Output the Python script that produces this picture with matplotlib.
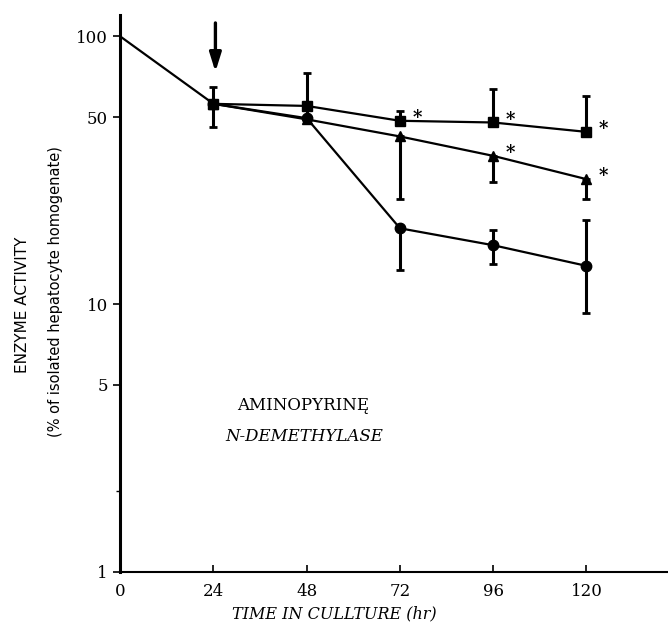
import numpy as np
import matplotlib
matplotlib.use("Agg")
import matplotlib.pyplot as plt
from matplotlib.ticker import FixedLocator, NullFormatter

# time points (hr)
hours = [24, 48, 72, 96, 120]
start_hour = [0, 24]
start_value = [100, 56]

# enzyme activity (% of isolated hepatocyte homogenate)
squares = [56, 55, 48.4, 47.7, 44.0]
squares_lo = [46, 48, 48.4, 47.7, 44.0]
squares_hi = [65, 73, 52.8, 63.5, 60.1]

triangles = [56, 49, 42.3, 35.8, 29.3]
triangles_lo = [56, 49, 24.6, 28.6, 24.6]
triangles_hi = [56, 49, 42.3, 35.8, 29.3]

circles = [56, 49.5, 19.2, 16.6, 13.9]
circles_lo = [56, 49.5, 13.4, 14.1, 9.3]
circles_hi = [56, 49.5, 19.2, 18.9, 20.7]

# significance marks (hour, value of the point they follow)
stars_hours = [72, 96, 120, 96, 120]
stars_values = [48.4, 47.7, 44.0, 35.8, 29.3]

y_ticks = [1, 5, 10, 50, 100]
x_ticks = [24, 48, 72, 96, 120]

plt.rcParams['font.family'] = ['DejaVu Serif']

fig = plt.figure(figsize=(6.68, 6.34), dpi=100)
ax = fig.add_axes([0.18, 0.098, 0.82, 0.878])

ax.plot(start_hour, start_value, color='black', lw=1.6, zorder=3)

series = [
    (squares, squares_lo, squares_hi, 's', 7),
    (triangles, triangles_lo, triangles_hi, '^', 7.5),
    (circles, circles_lo, circles_hi, 'o', 7.5),
]
for vals, lo, hi, mk, ms in series:
    v = np.array(vals)
    yerr = [v - np.array(lo), np.array(hi) - v]
    ax.errorbar(hours, vals, yerr=yerr, fmt='-', marker=mk, ms=ms,
                color='black', lw=1.6, elinewidth=2.2, capsize=3,
                capthick=2, zorder=3)

for h, v in zip(stars_hours, stars_values):
    ax.annotate('*', xy=(h, v), xytext=(9, 2), textcoords='offset points',
                fontsize=13, fontweight='bold', ha='left', va='center')

# arrow marking 24 hr
ax.annotate('', xy=(24.5, 72), xytext=(24.5, 115),
            arrowprops=dict(arrowstyle='-|>,head_width=0.25,head_length=0.8',
                            lw=2.4, color='black', mutation_scale=14))

ax.set_yscale('log')
ax.set_ylim(1, 120)
ax.set_xlim(0, 141)

ax.yaxis.set_major_locator(FixedLocator(y_ticks))
ax.set_yticklabels([str(t) for t in y_ticks])
ax.yaxis.set_minor_locator(FixedLocator([2]))
ax.yaxis.set_minor_formatter(NullFormatter())
ax.set_xticks([0] + x_ticks)
ax.set_xticklabels(['0'] + [str(t) for t in x_ticks])

ax.tick_params(axis='y', which='major', direction='out', length=5, width=1.2,
               labelsize=12, pad=4)
ax.tick_params(axis='y', which='minor', direction='out', length=3, width=1)
ax.tick_params(axis='x', direction='in', length=5, width=1.2,
               labelsize=12, pad=8)

for side in ['top', 'right']:
    ax.spines[side].set_visible(False)
ax.spines['left'].set_linewidth(2.2)
ax.spines['bottom'].set_linewidth(1.5)

ax.text(30, 4.2, 'AMINOPYRINĘ', fontsize=12, ha='left', va='center')
ax.text(27, 3.2, 'N-DEMETHYLASE', fontsize=12, style='italic',
        ha='left', va='center')

fig.text(0.5, 0.018, 'TIME IN CULLTURE (hr)', fontsize=11.5,
         style='italic', ha='center', va='bottom')
fig.text(0.033, 0.52, 'ENZYME ACTIVITY', rotation=90, fontsize=11,
         family='DejaVu Sans', ha='center', va='center')
fig.text(0.083, 0.54, '(% of isolated hepatocyte homogenate)', rotation=90,
         fontsize=10.5, family='DejaVu Sans', ha='center', va='center')

fig.savefig('out.png', dpi=100)
